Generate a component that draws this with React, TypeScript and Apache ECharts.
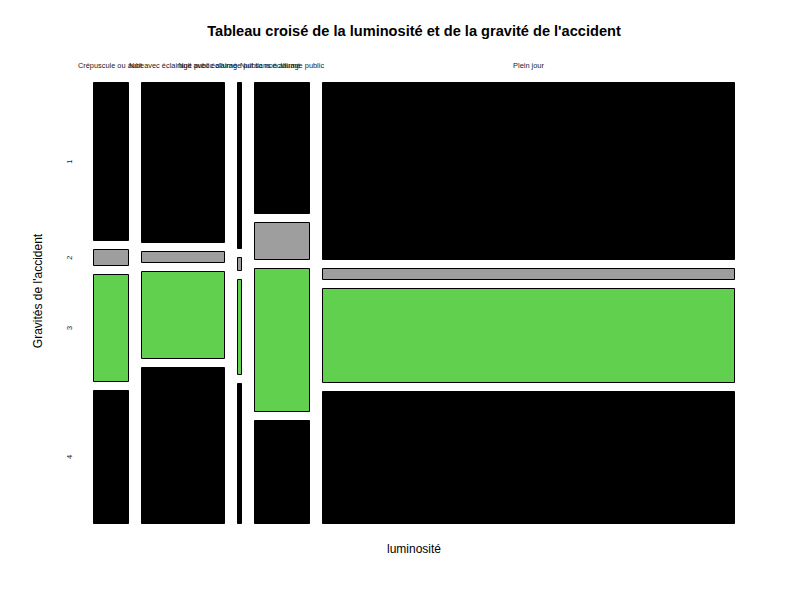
import React, { useEffect, useRef } from "react";
import * as echarts from "echarts";

// Luminosité categories (columns) and gravity levels (rows)
const lumCategories = [
  "Crépuscule ou aube",
  "Nuit avec éclairage public allumé",
  "Nuit avec éclairage public non allumé",
  "Nuit sans éclairage public",
  "Plein jour",
];
const gravLevels = ["1", "2", "3", "4"];
const gravColors = ["#000000", "#9E9E9E", "#61D04F", "#000000"];

// Counts per luminosité category, by gravity level 1..4 (estimated)
const crepuscule = [2309, 242, 1563, 1946];
const nuitAllume = [5444, 424, 2955, 5317];
const nuitNonAllume = [335, 28, 194, 283];
const nuitSans = [2989, 849, 3253, 2339];
const pleinJour = [29550, 2086, 15853, 22041];

const countsByCol = [crepuscule, nuitAllume, nuitNonAllume, nuitSans, pleinJour];

const TITLE = "Tableau croisé de la luminosité et de la gravité de l'accident";
const XLAB = "luminosité";
const YLAB = "Gravités de l'accident";

const GRID = { left: 93, top: 82, width: 642, height: 442 };
const GAP_X = 12 / 642;
const GAP_Y = 8 / 442;

function buildLayout() {
  const colTotals = countsByCol.map((c) => c.reduce((a, b) => a + b, 0));
  const grand = colTotals.reduce((a, b) => a + b, 0);
  const availX = 1 - GAP_X * (countsByCol.length - 1);
  const cols: { x0: number; x1: number; rows: { y0: number; y1: number }[] }[] = [];
  let x = 0;
  countsByCol.forEach((c, ci) => {
    const w = (colTotals[ci] / grand) * availX;
    const availY = 1 - GAP_Y * (c.length - 1);
    let y = 0;
    const rows = c.map((v) => {
      const h = (v / colTotals[ci]) * availY;
      const r = { y0: y, y1: y + h };
      y += h + GAP_Y;
      return r;
    });
    cols.push({ x0: x, x1: x + w, rows });
    x += w + GAP_X;
  });
  return cols;
}

export default function App() {
  const ref = useRef<HTMLDivElement>(null);
  useEffect(() => {
    if (!ref.current) return;
    const chart = echarts.init(ref.current, undefined, { renderer: "svg" });
    const layout = buildLayout();
    const cellData: number[][] = [];
    countsByCol.forEach((c, ci) => c.forEach((v, ri) => cellData.push([ci, ri, v])));
    const font = "'Liberation Sans', Arial, sans-serif";

    chart.setOption({
      animation: false,
      backgroundColor: "#ffffff",
      grid: { left: GRID.left, top: GRID.top, width: GRID.width, height: GRID.height },
      xAxis: { type: "value", min: 0, max: 1, show: false },
      yAxis: { type: "value", min: 0, max: 1, inverse: true, show: false },
      graphic: [
        {
          type: "text",
          x: 414,
          y: 31,
          style: {
            text: TITLE,
            font: `bold 14.6px ${font}`,
            fill: "#000",
            align: "center",
            verticalAlign: "middle",
          },
        },
        {
          type: "text",
          x: 414,
          y: 549,
          style: {
            text: XLAB,
            font: `12px ${font}`,
            fill: "#000",
            align: "center",
            verticalAlign: "middle",
          },
        },
        {
          type: "text",
          x: 38,
          y: 291,
          rotation: Math.PI / 2,
          style: {
            text: YLAB,
            font: `12px ${font}`,
            fill: "#000",
            align: "center",
            verticalAlign: "middle",
          },
        },
      ],
      series: [
        {
          type: "custom",
          coordinateSystem: "cartesian2d",
          data: cellData,
          encode: { x: 0, y: 1 },
          renderItem: (params: any, api: any) => {
            const ci = api.value(0);
            const ri = api.value(1);
            const col = layout[ci];
            const row = col.rows[ri];
            const p0 = api.coord([col.x0, row.y0]);
            const p1 = api.coord([col.x1, row.y1]);
            return {
              type: "rect",
              shape: {
                x: Math.round(p0[0]) + 0.5,
                y: Math.round(p0[1]) + 0.5,
                width: Math.round(p1[0]) - Math.round(p0[0]) - 1,
                height: Math.round(p1[1]) - Math.round(p0[1]) - 1,
              },
              style: { fill: gravColors[ri], stroke: "#000", lineWidth: 1 },
            };
          },
        },
        {
          type: "custom",
          coordinateSystem: "cartesian2d",
          data: lumCategories.map((_, i) => [i]),
          renderItem: (params: any, api: any) => {
            const ci = api.value(0);
            const col = layout[ci];
            const p = api.coord([(col.x0 + col.x1) / 2, 0]);
            return {
              type: "text",
              x: p[0],
              y: p[1] - 17,
              style: {
                text: lumCategories[ci],
                font: `7.4px ${font}`,
                fill: "#1a1a1a",
                align: "center",
                verticalAlign: "middle",
              },
            };
          },
        },
        {
          type: "custom",
          coordinateSystem: "cartesian2d",
          data: gravLevels.map((_, i) => [i]),
          renderItem: (params: any, api: any) => {
            const ri = api.value(0);
            const row = layout[0].rows[ri];
            const p = api.coord([0, (row.y0 + row.y1) / 2]);
            return {
              type: "text",
              x: p[0] - 24,
              y: p[1],
              rotation: Math.PI / 2,
              style: {
                text: gravLevels[ri],
                font: `7.4px ${font}`,
                fill: "#1a1a1a",
                align: "center",
                verticalAlign: "middle",
              },
            };
          },
        },
      ],
    });
    return () => chart.dispose();
  }, []);
  return <div ref={ref} style={{ width: 800, height: 600, margin: -8 }} />;
}
